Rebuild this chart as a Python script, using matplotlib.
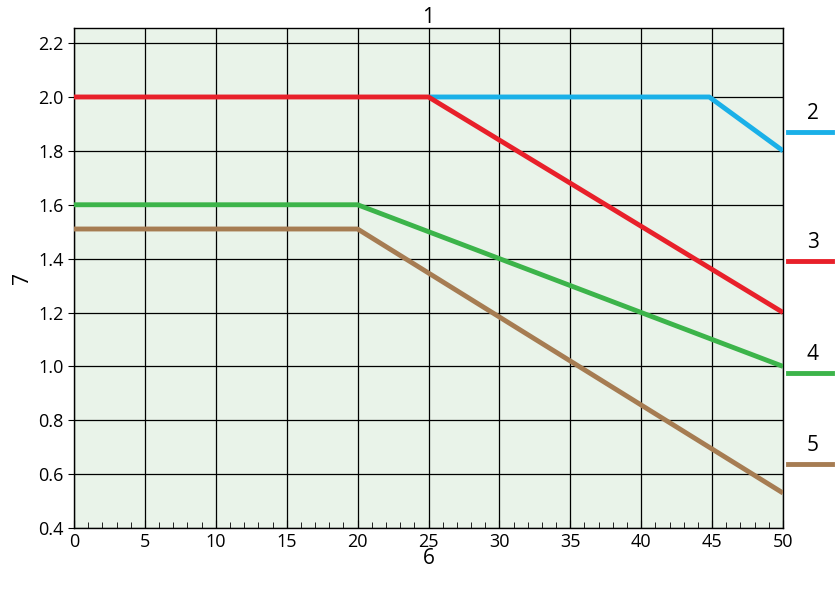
import matplotlib
matplotlib.use("Agg")
import matplotlib.pyplot as plt
import matplotlib.transforms as mtrans

plt.rcParams['font.family'] = ['Open Sans', 'DejaVu Sans']

blue_x = [25, 44.8, 50]; blue_y = [2.0, 2.0, 1.8]
red_x = [0, 25, 50]; red_y = [2.0, 2.0, 1.2]
green_x = [0, 20, 50]; green_y = [1.6, 1.6, 1.0]
brown_x = [0, 20, 50]; brown_y = [1.51, 1.51, 0.53]
labels = ["2", "3", "4", "5"]
label_y = [1.87, 1.39, 0.975, 0.637]
colors = ["#1ab0e8", "#e8202a", "#3cb44a", "#a67c52"]

fig = plt.figure(figsize=(8.37, 5.96), dpi=100)
ax = fig.add_axes([0.0884, 0.114, 0.8471, 0.839])
ax.set_facecolor("#e9f3e9")
ax.set_xlim(0, 50)
ax.set_ylim(0.4, 2.256)
ax.set_xticks(range(0, 51, 5))
ax.set_xticks(range(0, 51, 1), minor=True)
ax.set_yticks([0.4 + 0.2 * i for i in range(10)])
ax.set_yticklabels([f"{0.4 + 0.2 * i:.1f}" for i in range(10)])
ax.grid(True, which="major", color="black", linewidth=0.9)
ax.tick_params(axis="x", which="both", direction="in", length=6, labelsize=13)
ax.tick_params(axis="x", which="minor", length=4)
ax.tick_params(axis="y", direction="out", length=4, labelsize=13)
for s in ax.spines.values():
    s.set_linewidth(1.0)

for xs, ys, c in zip([blue_x, red_x, green_x, brown_x], [blue_y, red_y, green_y, brown_y], colors):
    ax.plot(xs, ys, color=c, linewidth=3.5, solid_capstyle="butt", zorder=3)

tr = mtrans.blended_transform_factory(fig.transFigure, ax.transData)
for lab, y, c in zip(labels, label_y, colors):
    ax.plot([788 / 837, 832 / 837], [y, y], color=c, linewidth=3.5, transform=tr, clip_on=False)
    ax.text(813 / 837, y + 0.03, lab, transform=tr, ha="center", va="bottom", fontsize=15)

ax.set_title("1", fontsize=15, pad=0)
ax.set_xlabel("6", fontsize=15, labelpad=-2)
ax.set_ylabel("7", fontsize=15)
fig.savefig("out.png", dpi=100)
